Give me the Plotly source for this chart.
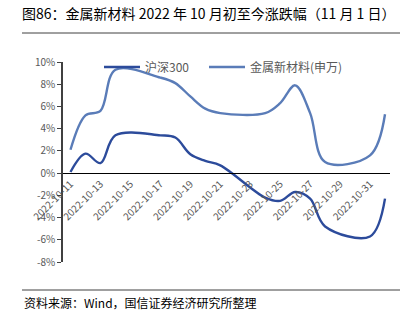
import plotly.graph_objects as go

dates = ['2022-10-11', '2022-10-12', '2022-10-13', '2022-10-14', '2022-10-17',
         '2022-10-18', '2022-10-19', '2022-10-20', '2022-10-21', '2022-10-24',
         '2022-10-25', '2022-10-26', '2022-10-27', '2022-10-28', '2022-10-31',
         '2022-11-01']
hs300 = [0.1, 1.75, 0.9, 3.4, 3.4, 3.2, 1.7, 1.1, 0.7, -2.2,
         -2.5, -1.7, -2.3, -4.8, -5.7, -2.3]
metal = [2.1, 5.2, 5.6, 9.3, 8.6, 8.1, 6.9, 5.8, 5.4, 5.4,
         6.3, 7.9, 5.4, 1.0, 1.6, 5.3]
tick_dates = ['2022-10-11', '2022-10-13', '2022-10-15', '2022-10-17', '2022-10-19',
              '2022-10-21', '2022-10-23', '2022-10-25', '2022-10-27', '2022-10-29',
              '2022-10-31']
y_ticks = [-8, -6, -4, -2, 0, 2, 4, 6, 8, 10]

title = '图86：金属新材料 2022 年 10 月初至今涨跌幅（11 月 1 日）'
source = '资料来源：Wind，国信证券经济研究所整理'

font_cjk = 'Noto Sans CJK SC, Noto Sans, sans-serif'

fig = go.Figure()
fig.add_trace(go.Scatter(x=dates, y=hs300, name='沪深300', mode='lines', legend='legend',
                         line=dict(color='#2c4b9b', width=2.4, shape='spline', smoothing=1.0)))
fig.add_trace(go.Scatter(x=dates, y=metal, name='金属新材料(申万)', mode='lines', legend='legend2',
                         line=dict(color='#5a7cb8', width=2.4, shape='spline', smoothing=1.0)))

leg_common = dict(orientation='h', yanchor='middle', xanchor='left', y=0.975,
                  bgcolor='rgba(0,0,0,0)', font=dict(size=12, color='#595959'),
                  itemwidth=36)

fig.update_layout(
    width=410, height=325,
    margin=dict(l=63, r=20, t=62, b=63),
    paper_bgcolor='white', plot_bgcolor='white',
    font=dict(family=font_cjk, size=10, color='#595959'),
    showlegend=True,
    legend=dict(x=(99 - 63) / 327, **leg_common),
    legend2=dict(x=(204 - 63) / 327, **leg_common),
    title=dict(text=title, x=22/410, xanchor='left', y=1-14/325, yanchor='middle',
               font=dict(family=font_cjk, size=14, color='#000000')),
)
fig.update_xaxes(
    type='date', range=['2022-10-10 12:00', '2022-11-01 08:00'],
    tickvals=tick_dates, tickformat='%Y-%m-%d', tickangle=-45,
    showgrid=False, showline=True, linecolor='#000000', linewidth=1.2,
    anchor='free', position=8/18, ticks='', zeroline=False,
    tickfont=dict(size=10, color='#595959'),
)
fig.update_yaxes(
    range=[-8, 10], tickvals=y_ticks, ticktext=[f'{v}%' for v in y_ticks],
    showgrid=False, zeroline=False, showline=True, linecolor='#404040', linewidth=1.5,
    ticks='outside', ticklen=4, tickcolor='#404040',
    tickfont=dict(size=10, color='#595959'),
)

def px_x(p):
    return (p - 63) / 327

def px_y(p):
    return (262 - p) / 200

fig.add_shape(type='line', xref='paper', yref='paper', x0=px_x(22), x1=px_x(400),
              y0=px_y(33), y1=px_y(33), line=dict(color='#404040', width=1))
fig.add_shape(type='line', xref='paper', yref='paper', x0=px_x(22), x1=px_x(400),
              y0=px_y(290), y1=px_y(290), line=dict(color='#404040', width=1))
fig.add_annotation(text=source, xref='paper', yref='paper', x=px_x(22), y=px_y(302),
                   xanchor='left', yanchor='middle', showarrow=False,
                   font=dict(family=font_cjk, size=12, color='#000000'))

fig.write_html('out.html')
